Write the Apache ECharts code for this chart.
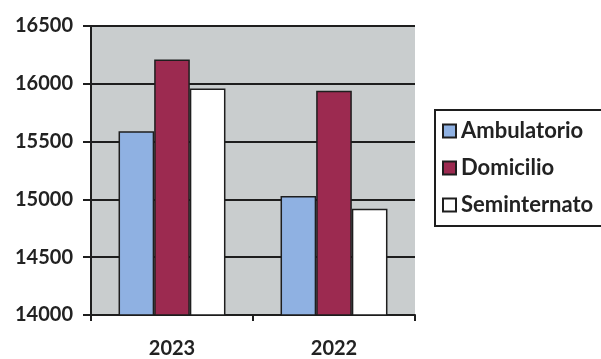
<!DOCTYPE html>
<html><head><meta charset="utf-8">
<script src="https://cdn.jsdelivr.net/npm/echarts@6/dist/echarts.min.js"></script>
<style>html,body{margin:0;padding:0;background:#fff}#c{width:601px;height:359px}</style>
</head><body><div id="c"></div>
<script>
const categories = ['2023', '2022'];
const ambulatorio = [15590, 15030];
const domicilio = [16210, 15940];
const seminternato = [15960, 14920];
const yTicks = [14000, 14500, 15000, 15500, 16000, 16500];

const font = 'Lato, "Open Sans", sans-serif';
const chart = echarts.init(document.getElementById('c'));
const barBorder = { borderColor: '#1e1e1e', borderWidth: 1.5 };
chart.setOption({
  animation: false,
  backgroundColor: '#ffffff',
  grid: { left: 91, right: 186, top: 26, bottom: 44 },
  legend: {
    orient: 'vertical', left: 435, top: 110,
    itemWidth: 13, itemHeight: 13, itemGap: 15,
    padding: [10, 60, 10, 7],
    borderColor: '#1e1e1e', borderWidth: 2,
    textStyle: { fontFamily: font, fontWeight: 'bold', fontSize: 22, color: '#222' },
    icon: 'rect'
  },
  xAxis: {
    type: 'category', data: categories,
    axisLine: { lineStyle: { color: '#1e1e1e', width: 2 } },
    axisTick: { show: true, inside: false, length: 6, lineStyle: { color: '#1e1e1e', width: 2 } },
    axisLabel: { margin: 24, fontFamily: font, fontWeight: 'bold', fontSize: 20, color: '#222' }
  },
  yAxis: {
    type: 'value', min: 14000, max: 16500, interval: 500,
    axisLine: { show: true, lineStyle: { color: '#1e1e1e', width: 2 } },
    axisTick: { show: true, length: 8, lineStyle: { color: '#1e1e1e', width: 2 } },
    axisLabel: { margin: 18, fontFamily: font, fontWeight: 'bold', fontSize: 20, color: '#222',
      formatter: v => yTicks.includes(v) ? String(v) : '' },
    splitLine: { show: true, lineStyle: { color: '#1e1e1e', width: 2 } },
    splitArea: { show: true, areaStyle: { color: ['#c9cdce', '#c9cdce'] } }
  },
  series: [
    { name: 'Ambulatorio', type: 'bar', data: ambulatorio, barGap: '0%', barCategoryGap: '34%',
      itemStyle: Object.assign({ color: '#8fb1e2' }, barBorder) },
    { name: 'Domicilio', type: 'bar', data: domicilio,
      itemStyle: Object.assign({ color: '#9c2a50' }, barBorder) },
    { name: 'Seminternato', type: 'bar', data: seminternato,
      itemStyle: Object.assign({ color: '#ffffff' }, barBorder) }
  ]
});
</script></body></html>
